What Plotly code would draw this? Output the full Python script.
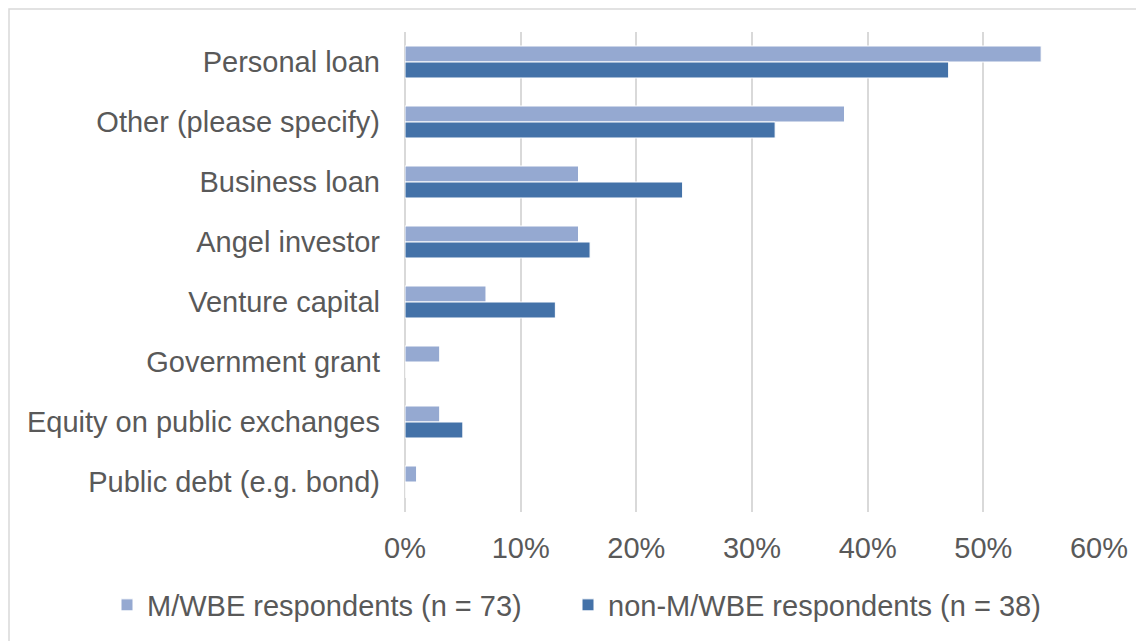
import plotly.graph_objects as go

# ── Data ─────────────────────────────────────────────────────────────────────
categories = [
    "Personal loan",
    "Other (please specify)",
    "Business loan",
    "Angel investor",
    "Venture capital",
    "Government grant",
    "Equity on public exchanges",
    "Public debt (e.g. bond)",
]
mwbe_values = [0.55, 0.38, 0.15, 0.15, 0.07, 0.03, 0.03, 0.01]
non_mwbe_values = [0.47, 0.32, 0.24, 0.16, 0.13, 0.0, 0.05, 0.0]
series_names = ["M/WBE respondents (n = 73)", "non-M/WBE respondents (n = 38)"]
x_tickvals = [0, 0.1, 0.2, 0.3, 0.4, 0.5, 0.6]

# ── Style ────────────────────────────────────────────────────────────────────
LIGHT = "#95A9D1"
DARK = "#4472A8"
TEXT = "#595959"
GRID = "#D9D9D9"
FONT = dict(family="Liberation Sans, Arial, sans-serif", size=29, color=TEXT)

# page body has an 8px margin, so the figure is 8px smaller on each side
W, H = 1136, 633
ML, MR, MT, MB = 397, 45, 24, 129
PW, PH = W - ML - MR, H - MT - MB


def _legend(x_px):
    """One-entry legend placed at a pixel x inside the svg, below the plot."""
    return dict(
        visible=True,
        orientation="h",
        x=(x_px - ML) / PW,
        xanchor="left",
        y=-93 / PH,
        yanchor="middle",
        font=FONT,
        itemwidth=30,
        bgcolor="rgba(0,0,0,0)",
    )


fig = go.Figure()
for name, vals, color, leg in [
    (series_names[0], mwbe_values, LIGHT, "legend"),
    (series_names[1], non_mwbe_values, DARK, "legend2"),
]:
    fig.add_trace(go.Bar(
        x=vals,
        y=categories,
        orientation="h",
        name=name,
        legend=leg,
        showlegend=True,
        marker=dict(color=color, line=dict(color="white", width=1)),
    ))

fig.update_layout(
    width=W,
    height=H,
    paper_bgcolor="white",
    plot_bgcolor="white",
    font=FONT,
    showlegend=True,
    barmode="group",
    bargap=0.467,
    bargroupgap=0,
    margin=dict(l=ML, r=MR, t=MT, b=MB, autoexpand=False),
    xaxis=dict(
        range=[0, 0.6],
        tickvals=x_tickvals,
        tickformat=".0%",
        showgrid=True,
        gridcolor=GRID,
        gridwidth=1.5,
        zeroline=True,
        zerolinecolor=GRID,
        zerolinewidth=1.5,
        showline=False,
        ticklabelstandoff=16,
        fixedrange=True,
    ),
    yaxis=dict(
        autorange="reversed",
        showgrid=False,
        showline=False,
        ticklabelstandoff=24,
        fixedrange=True,
    ),
    legend=_legend(99),
    legend2=_legend(560),
    shapes=[dict(
        type="rect", xref="paper", yref="paper",
        x0=-(ML - 1) / PW, x1=1 + (MR + 10) / PW,
        y0=-(MB + 10) / PH, y1=1 + (MT - 1) / PH,
        line=dict(color=GRID, width=1.5), layer="below",
    )],
)

fig.write_html("out.html")
